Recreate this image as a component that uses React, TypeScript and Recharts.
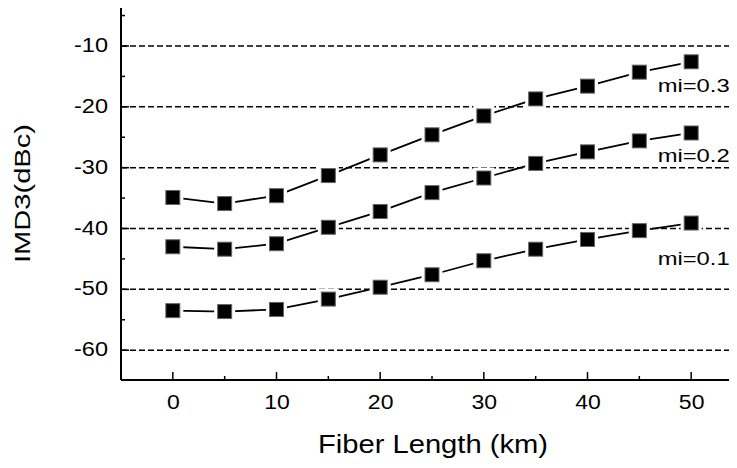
import React from 'react';
import { LineChart, Line, XAxis, YAxis, ReferenceLine, LabelList } from 'recharts';

const fiberLength = [0, 5, 10, 15, 20, 25, 30, 35, 40, 45, 50];
const mi03 = [-34.9, -35.9, -34.6, -31.3, -27.9, -24.6, -21.5, -18.7, -16.6, -14.3, -12.6];
const mi02 = [-43.0, -43.4, -42.5, -39.8, -37.2, -34.1, -31.7, -29.3, -27.4, -25.6, -24.3];
const mi01 = [-53.5, -53.65, -53.3, -51.6, -49.65, -47.6, -45.3, -43.4, -41.8, -40.35, -39.1];
const xTicks = [0, 5, 10, 15, 20, 25, 30, 35, 40, 45, 50];
const yTicks = [-60, -55, -50, -45, -40, -35, -30, -25, -20, -15, -10, -5];
const gridValues = [-10, -20, -30, -40, -50, -60];
const seriesNames = ['mi=0.3', 'mi=0.2', 'mi=0.1'];
const xDomain = [-5, 55];
const yDomain = [-64.9, -3.1];

const data = fiberLength.map((x, i) => ({ x, mi03: mi03[i], mi02: mi02[i], mi01: mi01[i] }));

const FONT = '"Liberation Sans", Arial, sans-serif';

const XTick = (props: any) => {
  const { x, y, payload } = props;
  const v = payload.value;
  const major = v % 10 === 0;
  const s = String(v);
  return (
    <g>
      <line x1={x} x2={x} y1={y} y2={y - (major ? 8 : 4)} stroke="#000" strokeWidth={1.5} />
      {major && (
        <text
          x={x + 0.5}
          y={y + 29}
          textAnchor="middle"
          fontFamily={FONT}
          fontSize={20.5}
          textLength={12.8 * s.length}
          lengthAdjust="spacingAndGlyphs"
          fill="#000"
        >
          {s}
        </text>
      )}
    </g>
  );
};

const TopTick = (props: any) => {
  const { x, y } = props;
  return <line x1={x} x2={x} y1={y} y2={y + 4} stroke="#000" strokeWidth={1.5} />;
};

const YTick = (props: any) => {
  const { x, y, payload } = props;
  const v = payload.value;
  const major = v % 10 === 0;
  const s = String(v);
  return (
    <g>
      <line x1={x} x2={x + (major ? 8 : 4)} y1={y} y2={y} stroke="#000" strokeWidth={1.5} />
      {major && (
        <text
          x={x - 13}
          y={y + 6}
          textAnchor="end"
          fontFamily={FONT}
          fontSize={20}
          textLength={34}
          lengthAdjust="spacingAndGlyphs"
          fill="#000"
        >
          {s}
        </text>
      )}
    </g>
  );
};

const SquareDot = (props: any) => {
  const { cx, cy } = props;
  if (cx == null || cy == null) return null;
  return (
    <g>
      <rect x={cx - 10.5} y={cy - 10.5} width={21} height={21} fill="#fff" />
      <rect x={cx - 7} y={cy - 7} width={14} height={14} fill="#000" stroke="#666" strokeWidth={1} />
    </g>
  );
};

const makeLabel = (text: string, dx: number, dy: number) => (props: any) => {
  const { x, y, index } = props;
  if (index !== fiberLength.length - 1) return null;
  return (
    <text
      x={x + dx}
      y={y + dy}
      fontFamily={FONT}
      fontSize={18.8}
      textLength={72}
      lengthAdjust="spacingAndGlyphs"
      fill="#000"
    >
      {text}
    </text>
  );
};

export default function App() {
  return (
    <div style={{ margin: '-8px 0 0 -8px', width: 737, height: 468, overflow: 'hidden', background: '#fff' }}>
      <LineChart width={760} height={468} data={data} margin={{ top: -26, right: 17, bottom: 0, left: 0 }}>
        <XAxis
          xAxisId="top"
          orientation="top"
          type="number"
          dataKey="x"
          domain={xDomain}
          ticks={xTicks}
          interval={0}
          height={30}
          tickSize={0}
          tickMargin={0}
          tick={TopTick}
          axisLine={{ stroke: '#000', strokeWidth: 2.5 }}
        />
        <XAxis
          type="number"
          dataKey="x"
          domain={xDomain}
          ticks={xTicks}
          interval={0}
          height={88}
          tickSize={0}
          tickMargin={0}
          tick={XTick}
          axisLine={{ stroke: '#000', strokeWidth: 2 }}
          label={{
            content: () => (
              <text
                x={433}
                y={453}
                textAnchor="middle"
                fontFamily={FONT}
                fontSize={25}
                textLength={230}
                lengthAdjust="spacingAndGlyphs"
                fill="#000"
              >
                Fiber Length (km)
              </text>
            ),
          }}
        />
        <YAxis
          type="number"
          domain={yDomain}
          ticks={yTicks}
          interval={0}
          width={121}
          tickSize={0}
          tickMargin={0}
          tick={YTick}
          axisLine={{ stroke: '#000', strokeWidth: 2 }}
          label={{
            content: () => (
              <text
                x={30}
                y={193.5}
                textAnchor="middle"
                fontFamily={FONT}
                fontSize={21.5}
                textLength={139}
                lengthAdjust="spacingAndGlyphs"
                fill="#000"
                transform="rotate(-90 30 193.5)"
              >
                IMD3(dBc)
              </text>
            ),
          }}
        />
        {gridValues.map((v) => (
          <ReferenceLine key={v} y={v} stroke="#000" strokeWidth={1.5} strokeDasharray="6 3" />
        ))}
        <ReferenceLine y={yDomain[1]} stroke="#000" strokeWidth={2.5} ifOverflow="visible" />
        <Line xAxisId="top" dataKey="mi03" stroke="none" dot={false} activeDot={false} legendType="none" isAnimationActive={false} />
        <Line dataKey="mi03" stroke="#000" strokeWidth={1.8} dot={SquareDot} isAnimationActive={false}>
          <LabelList dataKey="mi03" content={makeLabel(seriesNames[0], -33.5, 30)} />
        </Line>
        <Line dataKey="mi02" stroke="#000" strokeWidth={1.8} dot={SquareDot} isAnimationActive={false}>
          <LabelList dataKey="mi02" content={makeLabel(seriesNames[1], -33.5, 29)} />
        </Line>
        <Line dataKey="mi01" stroke="#000" strokeWidth={1.8} dot={SquareDot} isAnimationActive={false}>
          <LabelList dataKey="mi01" content={makeLabel(seriesNames[2], -33.5, 41.7)} />
        </Line>
      </LineChart>
    </div>
  );
}
